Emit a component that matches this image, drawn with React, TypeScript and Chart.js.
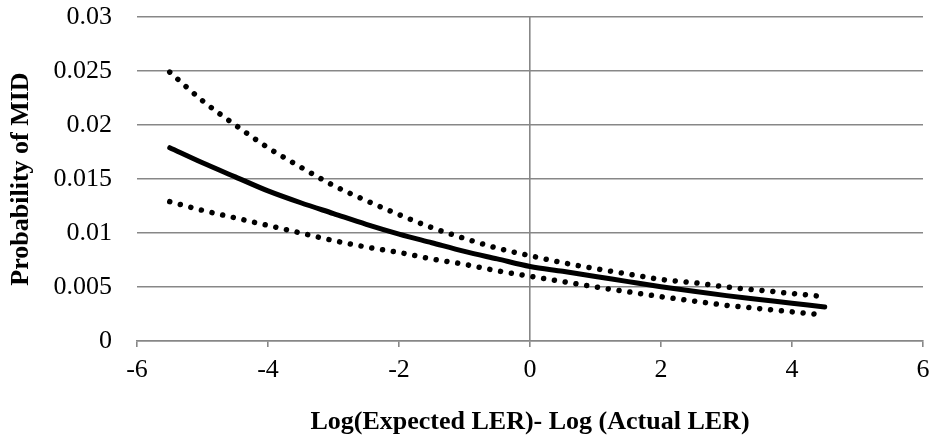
import React, { useEffect, useRef } from "react";
import { Chart, registerables } from "chart.js";

Chart.register(...registerables);

const xValues = [-5.5, -5, -4.5, -4, -3.5, -3, -2.5, -2, -1.5, -1, -0.5, 0, 0.5, 1, 1.5, 2, 2.5, 3, 3.5, 4, 4.5];
const estimate = [0.0179, 0.0165, 0.0152, 0.0139, 0.0128, 0.0118, 0.0108, 0.0099, 0.0091, 0.0083, 0.0076, 0.0069, 0.00645, 0.00598, 0.0055, 0.00503, 0.0046, 0.0042, 0.00385, 0.0035, 0.00315];
const upperBound = [0.0249, 0.02225, 0.02, 0.0179, 0.0161, 0.0144, 0.013, 0.0117, 0.0105, 0.0095, 0.0086, 0.0079, 0.00725, 0.0067, 0.0062, 0.0057, 0.0054, 0.005, 0.0047, 0.0044, 0.0041];
const lowerBound = [0.0129, 0.0121, 0.0114, 0.0107, 0.01, 0.0093, 0.0087, 0.0082, 0.0076, 0.0071, 0.0065, 0.006, 0.0055, 0.005, 0.00455, 0.0041, 0.0037, 0.0033, 0.003, 0.0027, 0.0024];

const yTickLabels = ["0", "0.005", "0.01", "0.015", "0.02", "0.025", "0.03"];
const xTickLabels = ["-6", "-4", "-2", "0", "2", "4", "6"];

const xTitle = "Log(Expected LER)- Log (Actual LER)";
const yTitle = "Probability of MID";

const FONT = '"Liberation Serif", "Times New Roman", serif';
const GRID = "#878787";
const SIZE = 26;

export default function App() {
  const canvasRef = useRef<HTMLCanvasElement | null>(null);

  useEffect(() => {
    const canvas = canvasRef.current;
    if (!canvas) return;
    const toPts = (arr: number[]) => xValues.map((x, i) => ({ x, y: arr[i] }));
    const dotted = {
      showLine: true,
      borderColor: "#000",
      backgroundColor: "#000",
      borderWidth: 5.5,
      borderDash: [0.01, 10.9],
      borderCapStyle: "round" as const,
      pointRadius: 0,
      cubicInterpolationMode: "monotone" as const,
      fill: false,
    };
    const chart = new Chart(canvas, {
      type: "scatter",
      data: {
        datasets: [
          { ...dotted, label: "Upper", data: toPts(upperBound) },
          {
            label: "Estimate",
            data: toPts(estimate),
            showLine: true,
            borderColor: "#000",
            backgroundColor: "#000",
            borderWidth: 5,
            borderCapStyle: "round",
            borderJoinStyle: "round",
            pointRadius: 0,
            cubicInterpolationMode: "monotone",
            fill: false,
          },
          { ...dotted, label: "Lower", data: toPts(lowerBound) },
        ],
      },
      options: {
        responsive: false,
        animation: false,
        devicePixelRatio: 1,
        layout: { padding: { left: 0, right: 8, top: 17, bottom: 0 } },
        plugins: { legend: { display: false }, tooltip: { enabled: false } },
        scales: {
          x: {
            type: "linear",
            min: -6,
            max: 6,
            ticks: {
              stepSize: 2,
              color: "#000",
              font: { family: FONT, size: SIZE },
              padding: 8,
              maxRotation: 0,
              callback: (_v: any, i: number) => xTickLabels[i],
            },
            grid: {
              color: (ctx: any) => (ctx.tick && ctx.tick.value === 0 ? GRID : "rgba(0,0,0,0)"),
              tickColor: GRID,
              lineWidth: 1.6,
              tickLength: 6,
              drawTicks: true,
            },
            border: { display: true, color: GRID, width: 1.6 },
            title: {
              display: true,
              text: xTitle,
              color: "#000",
              font: { family: FONT, size: SIZE, weight: "bold" },
              padding: { top: 0, bottom: 10 },
            },
            afterFit: (s: any) => {
              s.height = 107;
              s.paddingLeft = 0;
              s.paddingRight = 0;
            },
          },
          y: {
            type: "linear",
            min: 0,
            max: 0.03,
            ticks: {
              stepSize: 0.005,
              color: "#000",
              font: { family: FONT, size: SIZE },
              padding: 25,
              callback: (_v: any, i: number) => yTickLabels[i],
            },
            grid: { color: GRID, lineWidth: 1.6, drawTicks: false },
            border: { display: false },
            title: {
              display: true,
              text: yTitle,
              color: "#000",
              font: { family: FONT, size: SIZE, weight: "bold" },
              padding: { top: 6, bottom: 0 },
            },
            afterFit: (s: any) => {
              s.width = 137;
              s.paddingTop = 0;
              s.paddingBottom = 0;
            },
          },
        },
      },
    });
    return () => chart.destroy();
  }, []);

  return (
    <div style={{ position: "absolute", left: 0, top: 0, width: 931, height: 448, background: "#fff" }}>
      <canvas ref={canvasRef} width={931} height={448} style={{ display: "block" }} />
    </div>
  );
}
